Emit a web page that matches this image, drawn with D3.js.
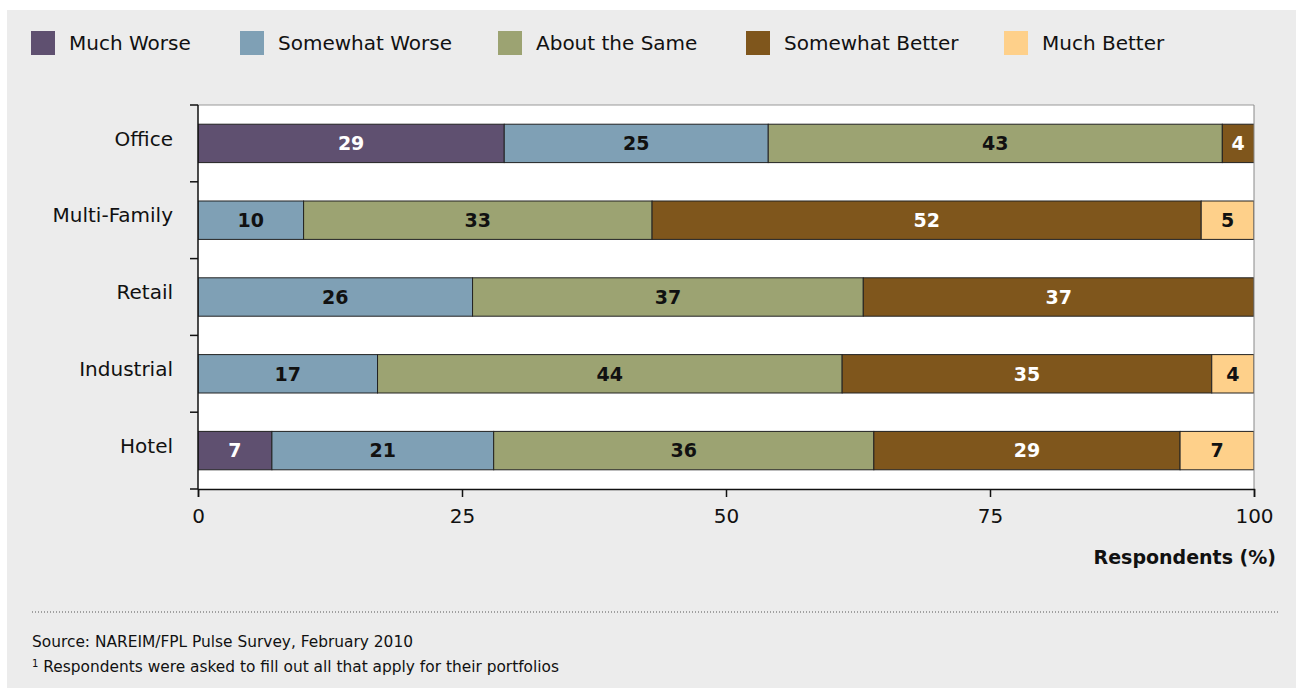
<!DOCTYPE html>
<html><head><meta charset="utf-8">
<script src="https://cdn.jsdelivr.net/npm/d3@7"></script>
<style>body{margin:0;background:#fff}svg{display:block}</style>
</head><body>
<svg id="c" width="1296" height="692"></svg>
<script>
const categories = ["Office","Multi-Family","Retail","Industrial","Hotel"];
const seriesNames = ["Much Worse","Somewhat Worse","About the Same","Somewhat Better","Much Better"];
const muchWorse      = [29, 0, 0, 0, 7];
const somewhatWorse  = [25, 10, 26, 17, 21];
const aboutSame      = [43, 33, 37, 44, 36];
const somewhatBetter = [4, 52, 37, 35, 29];
const muchBetter     = [0, 5, 0, 4, 7];
const xTicks = [0, 25, 50, 75, 100];
const colors = ["#5f5070","#7fa0b5","#9ca372","#7f561c","#fed08a"];
const labelColors = ["#fff","#111","#111","#fff","#111"];
const font = "'DejaVu Sans', sans-serif";

(function(){
const svg = d3.select("#c");
svg.append("rect").attr("x",7).attr("y",10).attr("width",1289).attr("height",678).attr("fill","#ececec");

const pL = 198, pR = 1254, pT = 105, pB = 489;
const x = d3.scaleLinear().domain([0,100]).range([pL,pR]);
const y = d3.scaleBand().domain(categories).range([pT,pB]).paddingInner(0.5).paddingOuter(0.25);

svg.append("rect").attr("x",pL).attr("y",pT).attr("width",pR-pL).attr("height",pB-pT).attr("fill","#fff");
svg.append("clipPath").attr("id","clip").append("rect").attr("x",pL).attr("y",pT-1).attr("width",pR-pL).attr("height",pB-pT+2);

const series = [muchWorse, somewhatWorse, aboutSame, somewhatBetter, muchBetter];
const table = categories.map((c,i)=>{const o={cat:c}; seriesNames.forEach((s,j)=>o[s]=series[j][i]); return o;});
const stacked = d3.stack().keys(seriesNames)(table);

const g = svg.append("g").attr("clip-path","url(#clip)");
stacked.forEach((layer,j)=>{
  layer.forEach(d=>{
    if (d[1]-d[0] <= 0) return;
    g.append("rect").attr("x",x(d[0])).attr("y",y(d.data.cat))
      .attr("width",x(d[1])-x(d[0])).attr("height",y.bandwidth())
      .attr("fill",colors[j]).attr("stroke","#222").attr("stroke-width",1);
  });
});
stacked.forEach((layer,j)=>{
  layer.forEach(d=>{
    const v = d[1]-d[0];
    if (v <= 0) return;
    const x0 = x(d[0]), x1 = Math.min(x(d[1]), pR);
    svg.append("text").attr("x",(x0+x1)/2).attr("y",y(d.data.cat)+y.bandwidth()/2)
      .attr("dy","0.36em").attr("text-anchor","middle")
      .attr("font-family",font).attr("font-size",19).attr("font-weight","bold")
      .attr("fill",labelColors[j]).text(v);
  });
});

svg.append("line").attr("x1",pL).attr("x2",pR).attr("y1",pT).attr("y2",pT).attr("stroke","#999").attr("stroke-width",1);
svg.append("line").attr("x1",pR).attr("x2",pR).attr("y1",pT).attr("y2",pB).attr("stroke","#888").attr("stroke-width",1);

const ya = svg.append("g");
ya.append("line").attr("x1",pL).attr("x2",pL).attr("y1",pT).attr("y2",pB).attr("stroke","#111").attr("stroke-width",1.5);
const bounds = [pT].concat(categories.map(c=>y(c)+y.bandwidth()+y.step()*0.25));
bounds.forEach(b=>ya.append("line").attr("x1",pL-8).attr("x2",pL).attr("y1",b).attr("y2",b).attr("stroke","#111").attr("stroke-width",1.5));
categories.forEach(c=>ya.append("text").attr("x",173).attr("y",y(c)+y.bandwidth()/2-5)
  .attr("dy","0.36em").attr("text-anchor","end").attr("font-family",font).attr("font-size",20).attr("fill","#111").text(c));

const xa = svg.append("g").attr("transform",`translate(0,${pB})`)
  .call(d3.axisBottom(x).tickValues(xTicks).tickSize(8).tickPadding(12));
xa.select(".domain").attr("stroke","#111").attr("stroke-width",1.5);
xa.selectAll(".tick line").attr("stroke","#111").attr("stroke-width",1.5);
xa.selectAll(".tick text").attr("font-family",font).attr("font-size",20).attr("fill","#111");

svg.append("text").attr("x",1276).attr("y",564).attr("text-anchor","end")
  .attr("font-family",font).attr("font-size",19).attr("font-weight","bold").attr("fill","#111").text("Respondents (%)");

const legX = [31, 240, 498, 746, 1004];
seriesNames.forEach((s,j)=>{
  svg.append("rect").attr("x",legX[j]).attr("y",31).attr("width",24).attr("height",24).attr("fill",colors[j]);
  svg.append("text").attr("x",legX[j]+38).attr("y",43).attr("dy","0.36em")
    .attr("font-family",font).attr("font-size",20).attr("fill","#111").text(s);
});

svg.append("line").attr("x1",32).attr("x2",1280).attr("y1",612).attr("y2",612)
  .attr("stroke","#555").attr("stroke-width",1).attr("stroke-dasharray","1,2");

svg.append("text").attr("x",32).attr("y",647).attr("font-family",font).attr("font-size",15.4).attr("fill","#111")
  .text("Source: NAREIM/FPL Pulse Survey, February 2010");
const fn = svg.append("text").attr("x",32).attr("y",672).attr("font-family",font).attr("font-size",15.4).attr("fill","#111");
fn.append("tspan").attr("font-size",10).attr("dy","-5").text("1");
fn.append("tspan").attr("dy","5").text(" Respondents were asked to fill out all that apply for their portfolios");
})();
</script>
</body></html>
